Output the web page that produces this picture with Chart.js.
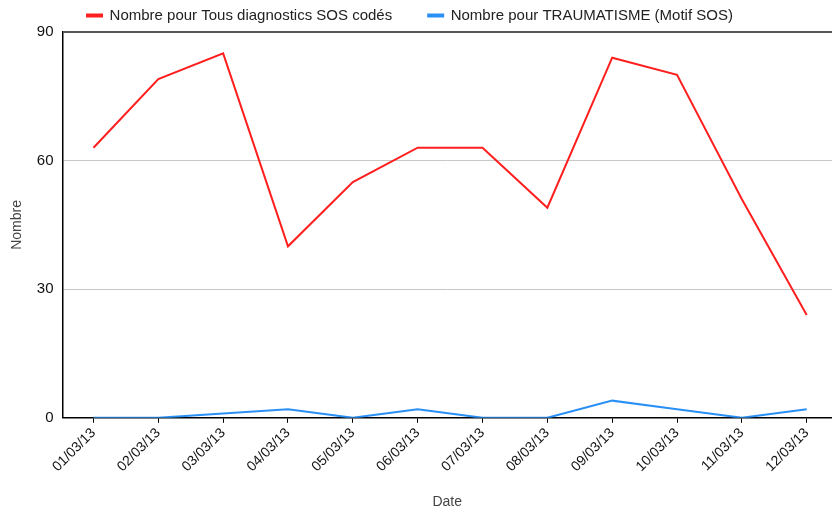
<!DOCTYPE html>
<html>
<head>
<meta charset="utf-8">
<script src="https://cdn.jsdelivr.net/npm/chart.js@4.4.1/dist/chart.umd.min.js"></script>
<style>
	html, body { margin: 0; padding: 0; background: #fff; }
	#wrap { width: 832px; height: 513px; }
</style>
</head>
<body>
<div id="wrap"><canvas id="myChart" width="832" height="513"></canvas></div>
<script>
const dates = [
	'01/03/13', '02/03/13', '03/03/13', '04/03/13', '05/03/13', '06/03/13',
	'07/03/13', '08/03/13', '09/03/13', '10/03/13', '11/03/13', '12/03/13',
];
const tousValues = [63, 79, 85, 40, 55, 63, 63, 49, 84, 80, 51, 24];
const traumaValues = [0, 0, 1, 2, 0, 2, 0, 0, 4, 2, 0, 2];
const yTicks = [0, 30, 60, 90];

const red = '#ff1f1f';
const blue = '#2b90f5';

Chart.defaults.font.family = '"Liberation Sans", Arial, sans-serif';
Chart.defaults.font.size = 14;
Chart.defaults.color = '#222';

const toPoints = arr => arr.map((v, i) => ({ x: i, y: v }));

const ctx = document.getElementById('myChart');
const chart = new Chart(ctx, {
	type: 'line',
	data: {
		datasets: [
			{
				label: 'Nombre pour Tous diagnostics SOS codés',
				data: toPoints(tousValues),
				borderColor: red,
				backgroundColor: red,
				borderWidth: 2,
				pointRadius: 0,
			},
			{
				label: 'Nombre pour TRAUMATISME (Motif SOS)',
				data: toPoints(traumaValues),
				borderColor: blue,
				backgroundColor: blue,
				borderWidth: 2,
				pointRadius: 0,
			},
		],
	},
	options: {
		responsive: false,
		animation: false,
		// legend item gap needs a big padding, pull it back up
		layout: { padding: { left: 0, right: 0, top: -29, bottom: 2 } },
		plugins: {
			legend: {
				position: 'top',
				labels: {
					boxWidth: 15,
					boxHeight: 2,
					padding: 36,
					color: '#222',
					font: { size: 15 },
				},
			},
			tooltip: { enabled: false },
		},
		elements: {
			line: { tension: 0 },
		},
		scales: {
			x: {
				type: 'linear',
				min: -0.478,
				max: 11.39,
				afterBuildTicks: axis => {
					axis.ticks = dates.map((_, i) => ({ value: i }));
				},
				afterFit: axis => {
					axis.paddingLeft = 0;
					axis.paddingRight = 0;
				},
				ticks: {
					autoSkip: false,
					minRotation: 45,
					maxRotation: 45,
					color: '#111',
					padding: 2,
					font: { size: 14 },
					callback: value => dates[value],
				},
				grid: {
					drawOnChartArea: false,
					drawTicks: true,
					tickLength: 5,
					tickColor: '#000',
				},
				border: { color: '#000', width: 1.5 },
				title: {
					display: true,
					text: 'Date',
					color: '#444',
					padding: { top: 17, bottom: 0 },
				},
			},
			y: {
				min: 0,
				max: 90,
				afterBuildTicks: axis => {
					axis.ticks = yTicks.map(v => ({ value: v }));
				},
				ticks: {
					color: '#111',
					padding: 9,
					font: { size: 15 },
				},
				grid: {
					drawTicks: false,
					color: c => (c.tick.value === 90 ? '#555' : c.tick.value === 0 ? 'rgba(0,0,0,0)' : '#c8c8c8'),
					lineWidth: c => (c.tick.value === 90 ? 2 : 1),
				},
				border: { color: '#000', width: 1.5 },
				title: {
					display: true,
					text: 'Nombre',
					color: '#444',
					padding: { top: 9, bottom: 2 },
				},
			},
		},
	},
	plugins: [
		{
			// nudge the legend a bit left / down without touching the chart area
			afterLayout: chart => {
				const lg = chart.legend;
				lg.left -= 6;
				lg.right -= 6;
				lg.top += 1;
				lg.bottom += 1;
			},
		},
	],
});
</script>
</body>
</html>
